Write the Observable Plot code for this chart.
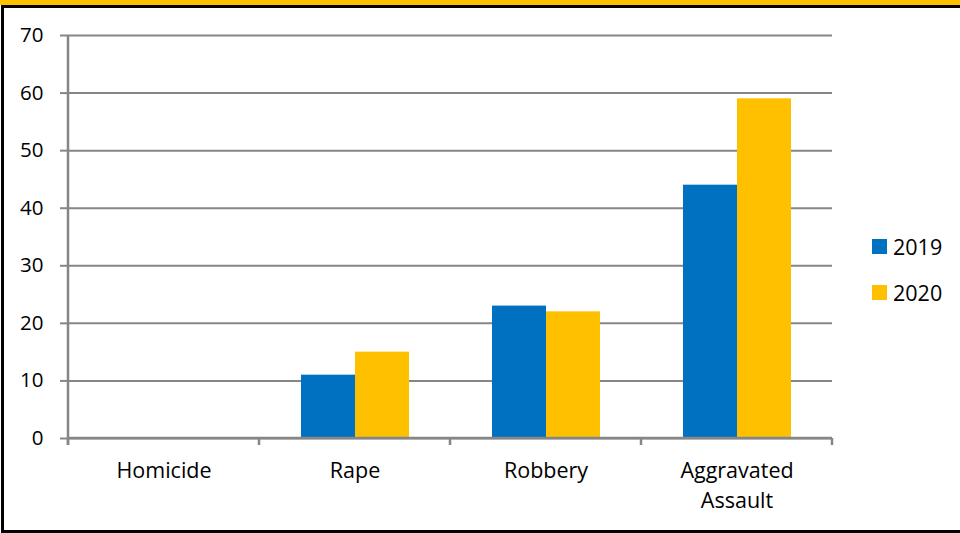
<!DOCTYPE html>
<html>
<head>
<meta charset="utf-8">
<script src="https://cdn.jsdelivr.net/npm/d3@7"></script>
<script src="https://cdn.jsdelivr.net/npm/@observablehq/plot@0.6"></script>
<style>
  html, body { margin: 0; padding: 0; background: #fff; overflow: hidden; }
  #wrap { position: relative; width: 960px; height: 533px; overflow: hidden; font-family: 'Open Sans', sans-serif; }
  #chart { position: absolute; left: 0; top: 0; }
  #topband { position: absolute; left: 0; top: 0; width: 960px; height: 4.5px; background: #FFC000; }
  #frame { position: absolute; left: 1px; top: 5px; width: 980px; height: 528px; box-sizing: border-box; border: 3px solid #000; border-right: none; pointer-events: none; }
  .leg { position: absolute; display: flex; align-items: center; font-size: 21.5px; color: #000; }
  .leg .sw { width: 15px; height: 15px; margin-right: 6px; }
</style>
</head>
<body>
<div id="wrap">
  <div id="chart"></div>
  <div id="topband"></div>
  <div id="frame"></div>
  <div id="legend"></div>
</div>
<script>
const categories = ["Homicide", "Rape", "Robbery", "Aggravated Assault"];
const years = ["2019", "2020"];
const values2019 = [0, 11, 23, 44];
const values2020 = [0, 15, 22, 59];
const yTicks = [0, 10, 20, 30, 40, 50, 60, 70];
const colors = ["#0070C0", "#FFC000"];

const data = categories.flatMap((c, i) => [
  {category: c, year: years[0], value: values2019[i]},
  {category: c, year: years[1], value: values2020[i]}
]);

const chart = Plot.plot({
  width: 960,
  height: 533,
  marginLeft: 68,
  marginRight: 128,
  marginTop: 35,
  marginBottom: 95,
  style: {background: "transparent", fontFamily: "'Open Sans', sans-serif", fontSize: "20.5px", color: "#000"},
  fx: {domain: categories, padding: 0, label: null},
  x: {domain: years, paddingInner: 0, paddingOuter: 0.75, axis: null},
  y: {domain: [0, 70], label: null},
  color: {domain: years, range: colors},
  marks: [
    Plot.ruleY(yTicks, {stroke: "#868686", strokeWidth: 2}),
    Plot.barY(data, {fx: "category", x: "year", y: "value", fill: "year"}),
    Plot.axisY({ticks: yTicks, tickSize: 8, tickPadding: 17, stroke: "#868686", strokeWidth: 2, label: null, fill: "#000", fontSize: 20.5}),
    Plot.axisFx({anchor: "bottom", tickSize: 0, tickPadding: 18, label: null, fill: "#000", fontSize: 21.5, lineHeight: 1.4,
      tickFormat: d => d === "Aggravated Assault" ? "Aggravated\nAssault" : d})
  ]
});
document.getElementById("chart").appendChild(chart);

// axis lines and band-boundary ticks drawn from the library's scales
const fx = chart.scale("fx");
const y = chart.scale("y");
const svg = d3.select(chart);
const x0 = fx.apply(categories[0]);
const x1 = fx.apply(categories[categories.length - 1]) + fx.bandwidth;
const y0 = y.apply(0);
const yTop = y.apply(yTicks[yTicks.length - 1]);
const g = svg.append("g").attr("stroke", "#868686").attr("stroke-width", 2.5);
g.append("line").attr("x1", x0).attr("x2", x0).attr("y1", yTop).attr("y2", y0 + 7);
g.append("line").attr("x1", x0).attr("x2", x1).attr("y1", y0).attr("y2", y0);
const bounds = categories.map(c => fx.apply(c)).concat([x1]);
g.selectAll("line.b").data(bounds).join("line").attr("class", "b")
  .attr("x1", d => d).attr("x2", d => d).attr("y1", y0).attr("y2", y0 + 7);

// legend
const leg = document.getElementById("legend");
years.forEach((yr, i) => {
  const item = document.createElement("div");
  item.className = "leg";
  item.style.left = "872px";
  item.style.top = (232 + i * 46) + "px";
  item.innerHTML = `<div class="sw" style="background:${colors[i]}"></div><span>${yr}</span>`;
  leg.appendChild(item);
});
</script>
</body>
</html>
